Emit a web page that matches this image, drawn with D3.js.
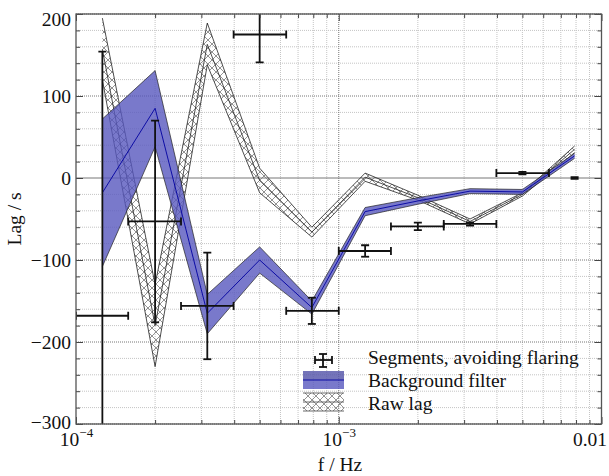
<!DOCTYPE html>
<html>
<head>
<meta charset="utf-8">
<script src="https://cdn.jsdelivr.net/npm/d3@7"></script>
<style>
body { margin: 0; background: #fff; }
svg { font-family: "Liberation Serif", "DejaVu Serif", serif; }
</style>
</head>
<body>
<svg id="chart" width="609" height="476"></svg>
<script>
// frequency bins, Hz (bin centres and bin edges)
var binFreq = [1.26e-4, 2.0e-4, 3.16e-4, 5.0e-4, 7.9e-4, 1.26e-3, 2.0e-3, 3.16e-3, 5.0e-3, 7.9e-3]
var binLo   = [1.0e-4, 1.58e-4, 2.51e-4, 3.98e-4, 6.31e-4, 1.0e-3, 1.58e-3, 2.51e-3, 3.98e-3, 7.9e-3]
var binHi   = [1.58e-4, 2.51e-4, 3.98e-4, 6.31e-4, 1.0e-3, 1.58e-3, 2.51e-3, 3.98e-3, 6.31e-3, 7.9e-3]

// raw lag band (s)
var rawMid   = [157, -180, 163, -3, -66, 1, -24, -53, -20, 35]
var rawUpper = [195, -130, 189, 12, -60, 6, -21, -50, -18, 39]
var rawLower = [120, -230, 138, -18, -72, -4, -27, -56, -22, 31]

// background filter band (s)
var bgMid   = [-18, 85, -165, -100, -158, -41, -28, -16, -17, 27]
var bgUpper = [72, 131, -142, -84, -150, -36, -24, -13, -14, 30]
var bgLower = [-108, 38, -190, -116, -166, -46, -32, -19, -20, 24]

// segments avoiding flaring (s)
var segVal = [-168, -53, -156, 175, -162, -89, -59, -56, 6, 0]
var segErr = [322, 123, 65, 34, 16, 7, 4.5, 2, 1.5, 1]

var yTicks = [-300, -200, -100, 0, 100, 200]
var xTicks = [1e-4, 1e-3, 1e-2]
var legendLabels = ["Segments, avoiding flaring", "Background filter", "Raw lag"]

var W = 609, H = 476
var L = 76, T = 14, R = 601.5, B = 424

var svg = d3.select("#chart")

var x = d3.scaleLog().domain([1e-4, 1e-2]).range([L, R])
var y = d3.scaleLinear().domain([-300, 200]).range([B, T])

var defs = svg.append("defs")
defs.append("clipPath").attr("id", "clip")
    .append("rect").attr("x", L).attr("y", T).attr("width", R - L).attr("height", B - T)

var pat = defs.append("pattern")
    .attr("id", "hatch")
    .attr("patternUnits", "userSpaceOnUse")
    .attr("width", 8)
    .attr("height", 8)
pat.append("path")
   .attr("d", "M-1,-1L9,9M9,-1L-1,9")
   .attr("stroke", "#777")
   .attr("stroke-width", 0.8)
   .attr("fill", "none")

// grid
var minorX = x.ticks().filter(function(d){ return xTicks.indexOf(d) < 0 })
var minorY = d3.range(-300, 201, 20).filter(function(d){ return d % 100 != 0 })

var grid = svg.append("g")
grid.selectAll(".gx").data(minorX).enter().append("line")
    .attr("x1", function(d){ return x(d) }).attr("x2", function(d){ return x(d) })
    .attr("y1", T).attr("y2", B)
    .attr("stroke", "#c4c4c4").attr("stroke-dasharray", "1,1")
grid.selectAll(".gy").data(minorY).enter().append("line")
    .attr("x1", L).attr("x2", R)
    .attr("y1", function(d){ return y(d) }).attr("y2", function(d){ return y(d) })
    .attr("stroke", "#c4c4c4").attr("stroke-dasharray", "1,1")
grid.selectAll(".gY").data(yTicks.filter(function(d){ return d != 0 })).enter().append("line")
    .attr("x1", L).attr("x2", R)
    .attr("y1", function(d){ return y(d) }).attr("y2", function(d){ return y(d) })
    .attr("stroke", "#777").attr("stroke-dasharray", "1,1")
grid.append("line")
    .attr("x1", x(1e-3)).attr("x2", x(1e-3)).attr("y1", T).attr("y2", B)
    .attr("stroke", "#777").attr("stroke-dasharray", "1,1")
grid.append("line")
    .attr("x1", L).attr("x2", R).attr("y1", y(0)).attr("y2", y(0))
    .attr("stroke", "#777").attr("stroke-width", 1)

var plot = svg.append("g").attr("clip-path", "url(#clip)")

// raw lag, hatched
var rawArea = d3.area()
    .x(function(d, i){ return x(binFreq[i]) })
    .y0(function(d, i){ return y(rawLower[i]) })
    .y1(function(d, i){ return y(rawUpper[i]) })
plot.append("path").datum(rawMid).attr("d", rawArea).attr("fill", "url(#hatch)")
function lineOf(arr){
    return d3.line().x(function(d, i){ return x(binFreq[i]) }).y(function(d){ return y(d) })(arr)
}
;[rawUpper, rawMid, rawLower].forEach(function(a){
    plot.append("path").attr("d", lineOf(a)).attr("fill", "none")
        .attr("stroke", "#222").attr("stroke-width", 0.8)
})

// background filter, blue
var bgArea = d3.area()
    .x(function(d, i){ return x(binFreq[i]) })
    .y0(function(d, i){ return y(bgLower[i]) })
    .y1(function(d, i){ return y(bgUpper[i]) })
plot.append("path").datum(bgMid).attr("d", bgArea)
    .attr("fill", "rgb(88,88,190)").attr("fill-opacity", 0.8)
;[bgUpper, bgLower].forEach(function(a){
    plot.append("path").attr("d", lineOf(a)).attr("fill", "none")
        .attr("stroke", "#222").attr("stroke-width", 0.7)
})
plot.append("path").attr("d", lineOf(bgMid)).attr("fill", "none")
    .attr("stroke", "#0000a0").attr("stroke-width", 0.9)

// error bars
var eb = plot.append("g").attr("stroke", "#111").attr("stroke-width", 1.8).attr("fill", "none")
segVal.forEach(function(v, i){
    var cx = x(binFreq[i]), cy = y(v)
    var yt = y(v + segErr[i]), yb = y(v - segErr[i])
    eb.append("line").attr("x1", cx).attr("x2", cx).attr("y1", yt).attr("y2", yb)
    eb.append("line").attr("x1", cx - 4).attr("x2", cx + 4).attr("y1", yt).attr("y2", yt)
    eb.append("line").attr("x1", cx - 4).attr("x2", cx + 4).attr("y1", yb).attr("y2", yb)
    var xl = x(binLo[i]), xr = x(binHi[i])
    if (xr - xl > 1) {
        eb.append("line").attr("x1", xl).attr("x2", xr).attr("y1", cy).attr("y2", cy)
        eb.append("line").attr("x1", xl).attr("x2", xl).attr("y1", cy - 4).attr("y2", cy + 4)
        eb.append("line").attr("x1", xr).attr("x2", xr).attr("y1", cy - 4).attr("y2", cy + 4)
    }
})

// axes, inward ticks
function styleAxis(g){
    g.select(".domain").remove()
    g.selectAll(".tick line").attr("stroke", "#444")
}
svg.append("g").attr("transform", "translate(" + L + ",0)")
   .call(d3.axisLeft(y).tickValues(minorY).tickSize(-4).tickFormat("")).call(styleAxis)
svg.append("g").attr("transform", "translate(" + R + ",0)")
   .call(d3.axisRight(y).tickValues(minorY).tickSize(-4).tickFormat("")).call(styleAxis)
svg.append("g").attr("transform", "translate(" + R + ",0)")
   .call(d3.axisRight(y).tickValues(yTicks).tickSize(-7).tickFormat("")).call(styleAxis)
svg.append("g").attr("transform", "translate(0," + T + ")")
   .call(d3.axisTop(x).tickValues(minorX).tickSize(-4).tickFormat("")).call(styleAxis)
svg.append("g").attr("transform", "translate(0," + T + ")")
   .call(d3.axisTop(x).tickValues(xTicks).tickSize(-7).tickFormat("")).call(styleAxis)
svg.append("g").attr("transform", "translate(0," + B + ")")
   .call(d3.axisBottom(x).tickValues(minorX).tickSize(-4).tickFormat("")).call(styleAxis)

var yAxis = svg.append("g").attr("transform", "translate(" + L + ",0)")
   .call(d3.axisLeft(y).tickValues(yTicks).tickSize(-7).tickPadding(5)
        .tickFormat(function(d){ return d < 0 ? "\u2212" + Math.abs(d) : String(d) }))
   .call(styleAxis)
yAxis.selectAll(".tick text")
     .attr("font-family", "Liberation Serif, serif").attr("font-size", 19.5).attr("fill", "#111")
     .attr("dy", function(d){ return d == 200 ? "11px" : d == -300 ? "4px" : "0.33em" })

var xAxis = svg.append("g").attr("transform", "translate(0," + B + ")")
   .call(d3.axisBottom(x).tickValues(xTicks).tickSize(-7).tickFormat(""))
   .call(styleAxis)
xAxis.selectAll(".tick text").each(function(d){
    var t = d3.select(this).attr("y", 22).attr("dy", 0)
        .attr("font-family", "Liberation Serif, serif").attr("font-size", 19.5).attr("fill", "#111")
    if (d == 1e-2) {
        t.text("0.01").attr("text-anchor", "end").attr("x", 5)
    } else {
        var e = Math.round(Math.log10(d))
        t.text("10")
        t.append("tspan").attr("font-size", 13).attr("dy", -9).text("\u2212" + Math.abs(e))
    }
})

// frame
svg.append("rect").attr("x", L).attr("y", T).attr("width", R - L).attr("height", B - T)
   .attr("fill", "none").attr("stroke", "#555").attr("stroke-width", 1.3)

// axis titles
svg.append("text").attr("transform", "translate(21,219) rotate(-90)")
   .attr("text-anchor", "middle").attr("font-size", 19.5).attr("fill", "#111").text("Lag / s")
svg.append("text").attr("x", 340).attr("y", 471)
   .attr("text-anchor", "middle").attr("font-size", 19.5).attr("fill", "#111").text("f / Hz")

// legend
var lg = svg.append("g")
var lx = 323, ly = 360
lg.append("line").attr("x1", lx).attr("x2", lx).attr("y1", ly - 6).attr("y2", ly + 7).attr("stroke", "#111").attr("stroke-width", 1.8)
lg.append("line").attr("x1", lx - 4).attr("x2", lx + 4).attr("y1", ly - 6).attr("y2", ly - 6).attr("stroke", "#111").attr("stroke-width", 1.8)
lg.append("line").attr("x1", lx - 4).attr("x2", lx + 4).attr("y1", ly + 7).attr("y2", ly + 7).attr("stroke", "#111").attr("stroke-width", 1.8)
lg.append("line").attr("x1", lx - 8).attr("x2", lx + 9).attr("y1", ly).attr("y2", ly).attr("stroke", "#111").attr("stroke-width", 1.8)
lg.append("line").attr("x1", lx - 8).attr("x2", lx - 8).attr("y1", ly - 4).attr("y2", ly + 4).attr("stroke", "#111").attr("stroke-width", 1.8)
lg.append("line").attr("x1", lx + 9).attr("x2", lx + 9).attr("y1", ly - 4).attr("y2", ly + 4).attr("stroke", "#111").attr("stroke-width", 1.8)

lg.append("rect").attr("x", 303).attr("y", 371).attr("width", 41).attr("height", 18)
  .attr("fill", "rgb(88,88,190)").attr("fill-opacity", 0.8)
lg.append("rect").attr("x", 303).attr("y", 371).attr("width", 41).attr("height", 9)
  .attr("fill", "#555").attr("fill-opacity", 0.15)
lg.append("line").attr("x1", 303).attr("x2", 344).attr("y1", 380).attr("y2", 380)
  .attr("stroke", "#0000a0").attr("stroke-width", 0.9)

lg.append("rect").attr("x", 303).attr("y", 393).attr("width", 41).attr("height", 18)
  .attr("fill", "url(#hatch)")
;[393, 402, 411].forEach(function(yy){
    lg.append("line").attr("x1", 303).attr("x2", 344).attr("y1", yy).attr("y2", yy)
      .attr("stroke", "#444").attr("stroke-width", 0.8)
})

lg.selectAll(".lt").data(legendLabels).enter().append("text")
  .attr("x", 368).attr("y", function(d, i){ return 364 + i * 23 })
  .attr("font-size", 19.5).attr("fill", "#111").text(function(d){ return d })
</script>
</body>
</html>
